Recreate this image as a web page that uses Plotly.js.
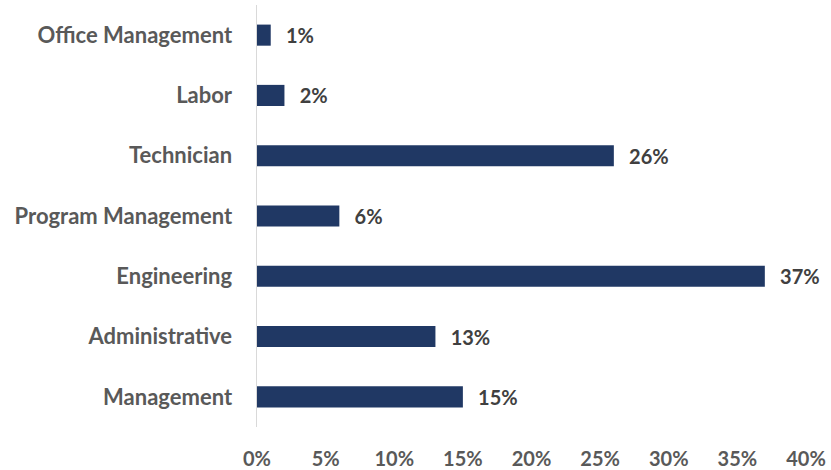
<!DOCTYPE html>
<html>
<head>
<meta charset="utf-8">
<script src="https://cdn.plot.ly/plotly-3.0.1.min.js"></script>
<style>html,body{margin:0;padding:0;background:#fff;}#chart{width:831px;height:470px;}</style>
</head>
<body>
<div id="chart"></div>
<script>
const categories = ["Management", "Administrative", "Engineering", "Program Management", "Technician", "Labor", "Office Management"];
const values = [15, 13, 37, 6, 26, 2, 1];
const tickVals = [0, 5, 10, 15, 20, 25, 30, 35, 40];
const tickText = ["0%", "5%", "10%", "15%", "20%", "25%", "30%", "35%", "40%"];

const font = "Lato, 'Open Sans', sans-serif";
Plotly.newPlot("chart", [{
  type: "bar",
  orientation: "h",
  y: categories,
  x: values,
  marker: {color: "#203864"},
  text: values.map(v => v + "%"),
  texttemplate: "\u00a0\u00a0\u2009%{text}",
  textposition: "outside",
  constraintext: "none",
  cliponaxis: false,
  textfont: {family: font, size: 20, color: "#404040", weight: "bold"},
  hoverinfo: "none"
}], {
  width: 831, height: 470,
  margin: {l: 257, r: 25, t: 5, b: 43},
  paper_bgcolor: "#fff", plot_bgcolor: "#fff",
  bargap: 0.65,
  showlegend: false,
  font: {family: font, size: 20, color: "#595959", weight: "bold"},
  xaxis: {
    range: [0, 40], tickvals: tickVals, ticktext: tickText,
    showgrid: false, zeroline: false, showline: false, ticks: "",
    ticklabelstandoff: 18,
    tickfont: {family: font, size: 20, color: "#595959", weight: "bold"}
  },
  yaxis: {
    showgrid: false, zeroline: false, showline: true, linecolor: "#D9D9D9", linewidth: 1.5,
    ticks: "", ticklabelstandoff: 19,
    tickfont: {family: font, size: 22, color: "#595959", weight: "bold"}
  }
}, {staticPlot: true});
</script>
</body>
</html>
